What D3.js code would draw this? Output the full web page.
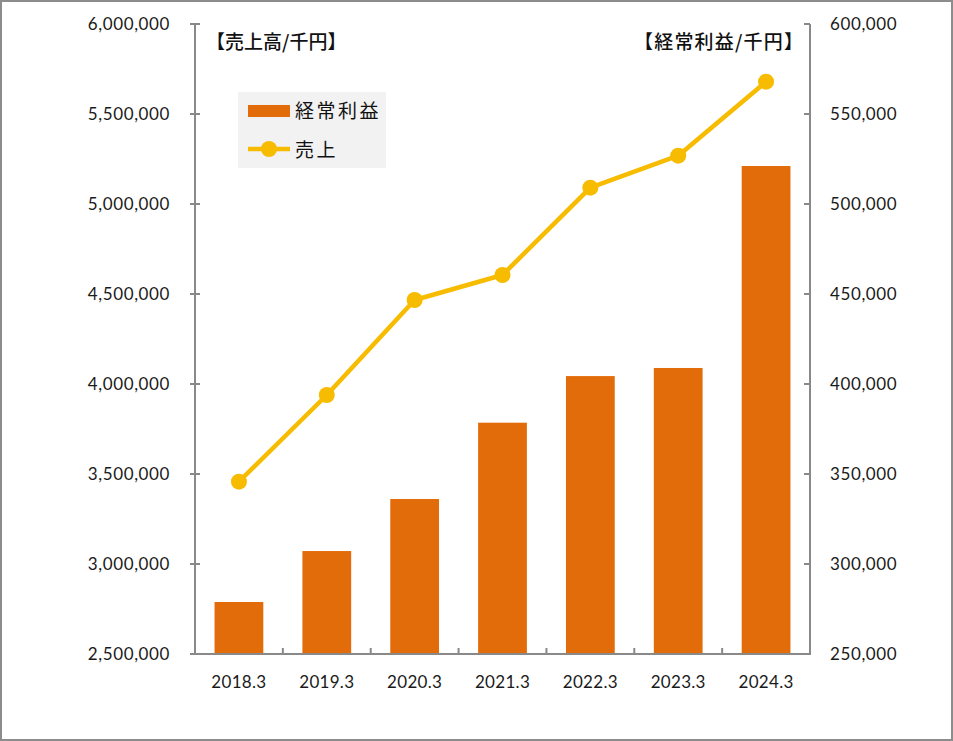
<!DOCTYPE html>
<html><head><meta charset="utf-8">
<script src="https://cdn.jsdelivr.net/npm/d3@7"></script>
<style>body{margin:0;background:#fff}svg{display:block}</style>
</head><body>
<svg id="c" width="953" height="741"></svg>
<script>
const categories = ["2018.3","2019.3","2020.3","2021.3","2022.3","2023.3","2024.3"];
const profit = [278900, 307200, 336100, 378500, 404400, 408900, 521100];
const sales = [3457200, 3938900, 4466700, 4605600, 5090600, 5268300, 5679400];
const leftTicks = [2500000,3000000,3500000,4000000,4500000,5000000,5500000,6000000];
const rightTicks = [250000,300000,350000,400000,450000,500000,550000,600000];
const seriesNames = ["経常利益","売上"];
const leftTitle = "【売上高/千円】";
const rightTitle = "【経常利益/千円】";

const svg = d3.select("#c");
const W = 953, H = 741;
const m = {l:195, r:810, t:24, b:654};
const numFont = "Lato, 'Open Sans', sans-serif";
const cjkFont = "'Noto Sans CJK JP', sans-serif";
const axisCol = "#898989";
const barCol = "#E36C0A";
const lineCol = "#F7BC00";

svg.append("rect").attr("x",1).attr("y",1).attr("width",W-2).attr("height",H-2)
  .attr("fill","#fff").attr("stroke","#8c8c8c").attr("stroke-width",2);

const x = d3.scaleBand().domain(categories).range([m.l, m.r]).paddingInner(0.445).paddingOuter(0.2225);
const xb = d3.scaleBand().domain(categories).range([m.l, m.r]);
const yL = d3.scaleLinear().domain([2500000,6000000]).range([m.b, m.t]);
const yR = d3.scaleLinear().domain([250000,600000]).range([m.b, m.t]);
const fmt = d3.format(",");

// bars
svg.append("g").selectAll("rect").data(categories).join("rect")
  .attr("x", d=>x(d)).attr("width", x.bandwidth())
  .attr("y", (d,i)=>yR(profit[i])).attr("height",(d,i)=>yR.range()[0]-yR(profit[i]))
  .attr("fill", barCol);

// axes
const gl = svg.append("g").attr("transform",`translate(${m.l},0)`)
  .call(d3.axisLeft(yL).tickValues(leftTicks).tickFormat(fmt).tickSize(0).tickPadding(25));
gl.select(".domain").remove();
gl.selectAll("text").attr("font-family",numFont).attr("font-size",17).attr("letter-spacing",0.6).attr("fill","#1a1a1a");
svg.append("g").selectAll("line").data(leftTicks).join("line")
  .attr("x1",m.l-5).attr("x2",m.l+5).attr("y1",d=>yL(d)).attr("y2",d=>yL(d))
  .attr("stroke",axisCol).attr("stroke-width",2);
svg.append("line").attr("x1",m.l).attr("x2",m.l).attr("y1",m.t).attr("y2",m.b)
  .attr("stroke",axisCol).attr("stroke-width",2);

const gr = svg.append("g").attr("transform",`translate(${m.r},0)`)
  .call(d3.axisRight(yR).tickValues(rightTicks).tickFormat(fmt).tickSize(0).tickPadding(20));
gr.select(".domain").remove();
gr.selectAll("text").attr("font-family",numFont).attr("font-size",17).attr("letter-spacing",0.6).attr("fill","#1a1a1a");
svg.append("g").selectAll("line").data(rightTicks).join("line")
  .attr("x1",m.r-6).attr("x2",m.r).attr("y1",d=>yR(d)).attr("y2",d=>yR(d))
  .attr("stroke",axisCol).attr("stroke-width",2);
svg.append("line").attr("x1",m.r).attr("x2",m.r).attr("y1",m.t).attr("y2",m.b)
  .attr("stroke",axisCol).attr("stroke-width",2);

const gb = svg.append("g").attr("transform",`translate(0,${m.b})`)
  .call(d3.axisBottom(x).tickSize(0).tickPadding(22));
gb.select(".domain").remove();
gb.selectAll("text").attr("font-family",numFont).attr("font-size",17).attr("letter-spacing",0.3).attr("fill","#1a1a1a");
svg.append("g").selectAll("line").data(categories.slice(1)).join("line")
  .attr("x1",d=>xb(d)).attr("x2",d=>xb(d)).attr("y1",m.b-6).attr("y2",m.b)
  .attr("stroke",axisCol).attr("stroke-width",2);
svg.append("line").attr("x1",m.l-1).attr("x2",m.r+1).attr("y1",m.b).attr("y2",m.b)
  .attr("stroke",axisCol).attr("stroke-width",2);

// line
const cx = d => x(d) + x.bandwidth()/2;
svg.append("path").datum(categories)
  .attr("d", d3.line().x(d=>cx(d)).y((d,i)=>yL(sales[i])))
  .attr("fill","none").attr("stroke",lineCol).attr("stroke-width",4.5).attr("stroke-linejoin","round");
svg.append("g").selectAll("circle").data(categories).join("circle")
  .attr("cx",d=>cx(d)).attr("cy",(d,i)=>yL(sales[i])).attr("r",8).attr("fill",lineCol);

// titles
svg.append("text").attr("x",206).attr("y",49).text(leftTitle)
  .attr("font-family",cjkFont).attr("font-size",19).attr("font-weight",500).attr("fill","#111");
svg.append("text").attr("x",634).attr("y",49).text(rightTitle)
  .attr("font-family",cjkFont).attr("font-size",19).attr("font-weight",500).attr("letter-spacing",1.2).attr("fill","#111");

// legend
const lg = svg.append("g");
lg.append("rect").attr("x",238).attr("y",92).attr("width",148).attr("height",76).attr("fill","#F2F2F2");
lg.append("rect").attr("x",248).attr("y",105).attr("width",42).attr("height",12).attr("fill",barCol);
lg.append("line").attr("x1",248).attr("x2",290).attr("y1",149).attr("y2",149).attr("stroke",lineCol).attr("stroke-width",4.5);
lg.append("circle").attr("cx",269).attr("cy",149).attr("r",8).attr("fill",lineCol);
lg.append("text").attr("x",295).attr("y",118).text(seriesNames[0])
  .attr("font-family",cjkFont).attr("font-size",19).attr("letter-spacing",2.5).attr("fill","#111");
lg.append("text").attr("x",295).attr("y",157).text(seriesNames[1])
  .attr("font-family",cjkFont).attr("font-size",19).attr("letter-spacing",2.5).attr("fill","#111");
</script>
</body></html>
